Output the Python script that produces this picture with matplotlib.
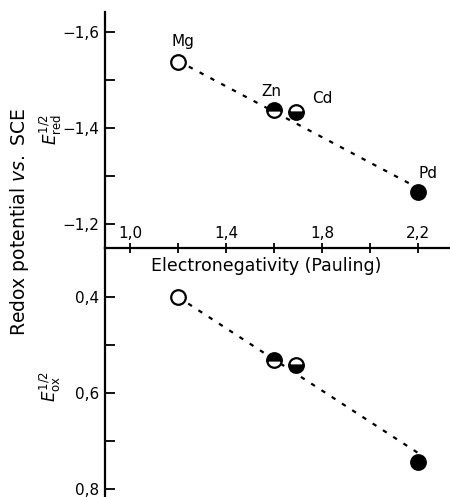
import matplotlib
matplotlib.use("Agg")
import matplotlib.pyplot as plt
from matplotlib.ticker import FixedLocator, FuncFormatter

#===============================================================================
# data
metals = ["Mg", "Zn", "Cd", "Pd"]
electroneg = [1.20, 1.60, 1.69, 2.20]
e_red = [-1.537, -1.437, -1.433, -1.267]
e_ox = [0.400, 0.531, 0.542, 0.744]
fills = ["none", "top", "bottom", "full"]

fit_x = [1.20, 2.20]
fit_red = [-1.54, -1.275]
fit_ox = [0.40, 0.725]

x_major = [1.0, 1.4, 1.8, 2.2]
x_minor = [1.2, 1.6, 2.0]
red_major = [-1.6, -1.4, -1.2]
red_minor = [-1.5, -1.3]
ox_major = [0.4, 0.6, 0.8]
ox_minor = [0.5, 0.7]

# label offsets (pixels) from each marker
label_off = [(5, 13), (-3, 11), (27, 6), (10, 11)]

#===============================================================================
plt.rcParams["font.family"] = "DejaVu Sans"
plt.rcParams["font.size"] = 10.5

comma = FuncFormatter(lambda v, pos: f"{v:.1f}".replace(".", ",").replace("-", "\u2212"))

fig = plt.figure(figsize=(4.5, 4.97), dpi=100)
ax1 = fig.add_axes([0.2333, 0.501, 0.7667, 0.475])
ax2 = fig.add_axes([0.2333, 0.0, 0.7667, 0.501], sharex=ax1)
ax1.patch.set_visible(False)
ax2.patch.set_visible(False)


def draw_points(ax, ys):
    for x, y, f in zip(electroneg, ys, fills):
        if f == "none":
            ax.plot(x, y, "o", ms=10.5, mfc="white", mec="black", mew=1.6, zorder=3)
        else:
            ax.plot(x, y, "o", ms=10.5, fillstyle=f, mfc="black", mfcalt="white",
                    mec="black", mew=1.6, zorder=3)


#===============================================================================
# upper panel: reduction potentials
ax1.plot(fit_x, fit_red, color="black", lw=1.6, ls=(0, (2, 3.5)), zorder=2)
draw_points(ax1, e_red)
for name, x, y, off in zip(metals, electroneg, e_red, label_off):
    ax1.annotate(name, (x, y), xytext=off, textcoords="offset pixels",
                 ha="center", va="bottom", fontsize=11)

ax1.set_xlim(0.896, 2.333)
ax1.set_ylim(-1.15, -1.642)
ax1.yaxis.set_major_locator(FixedLocator(red_major))
ax1.yaxis.set_minor_locator(FixedLocator(red_minor))
ax1.yaxis.set_major_formatter(comma)
ax1.xaxis.set_major_locator(FixedLocator(x_major))
ax1.xaxis.set_minor_locator(FixedLocator(x_minor))
ax1.tick_params(axis="y", which="both", direction="in", length=7, width=1.3, pad=4,
                labelsize=11)
ax1.tick_params(axis="x", which="both", direction="inout", length=7, width=1.3,
                labelbottom=False)
for s in ["top", "right"]:
    ax1.spines[s].set_visible(False)
for s in ["left", "bottom"]:
    ax1.spines[s].set_linewidth(1.6)
ax1.set_xlabel("Electronegativity (Pauling)", fontsize=12.5)
ax1.xaxis.set_label_coords(0.467, -0.04)

#===============================================================================
# lower panel: oxidation potentials
ax2.plot(fit_x, fit_ox, color="black", lw=1.6, ls=(0, (2, 3.5)), zorder=2)
draw_points(ax2, e_ox)

ax2.set_ylim(0.8167, 0.298)
ax2.yaxis.set_major_locator(FixedLocator(ox_major))
ax2.yaxis.set_minor_locator(FixedLocator(ox_minor))
ax2.yaxis.set_major_formatter(comma)
ax2.tick_params(axis="y", which="both", direction="in", length=7, width=1.3, pad=4,
                labelsize=11)
# x tick labels sit above the shared axis line
ax2.xaxis.set_ticks_position("top")
ax2.xaxis.set_major_formatter(comma)
ax2.tick_params(axis="x", which="both", length=0, labeltop=True, labelbottom=False, pad=5,
                labelsize=11)
for s in ["top", "bottom", "right"]:
    ax2.spines[s].set_visible(False)
ax2.spines["left"].set_linewidth(1.6)

#===============================================================================
fig.text(0.044, 1 - 222 / 497, "Redox potential $\\it{vs.}$ SCE", rotation=90,
         ha="center", va="center", fontsize=13.5)
fig.text(0.112, 1 - 130 / 497, "$E_{\\rm red}^{1/2}$", rotation=90,
         ha="center", va="center", fontsize=12)
fig.text(0.112, 1 - 387 / 497, "$E_{\\rm ox}^{1/2}$", rotation=90,
         ha="center", va="center", fontsize=12)

fig.savefig("out.png", dpi=100)
